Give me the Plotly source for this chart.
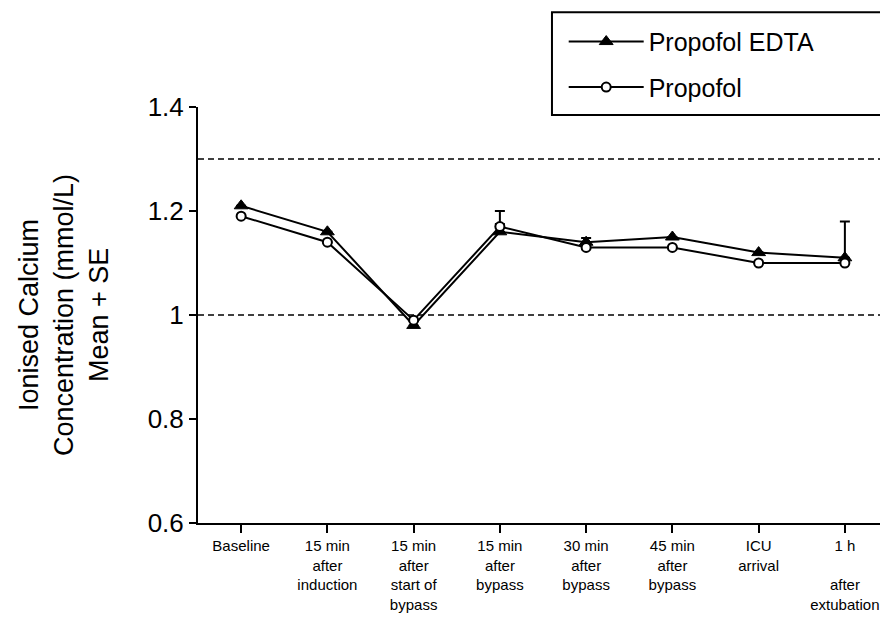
import plotly.graph_objects as go

categories = [
    "Baseline",
    "15 min<br>after<br>induction",
    "15 min<br>after<br>start of<br>bypass",
    "15 min<br>after<br>bypass",
    "30 min<br>after<br>bypass",
    "45 min<br>after<br>bypass",
    "ICU<br>arrival",
    "1 h<br> <br>after<br>extubation",
]
edta_mean = [1.21, 1.16, 0.98, 1.16, 1.14, 1.15, 1.12, 1.11]
edta_se = [None, None, None, 0.015, 0.008, None, None, 0.07]
prop_mean = [1.19, 1.14, 0.99, 1.17, 1.13, 1.13, 1.10, 1.10]
prop_se = [None, None, None, 0.03, None, None, None, None]
ref_lines = [1.3, 1.0]
y_ticks = [0.6, 0.8, 1.0, 1.2, 1.4]
y_ticktext = ["0.6", "0.8", "1", "1.2", "1.4"]

FONT = "Liberation Sans, Arial, sans-serif"
xs = list(range(len(categories)))

def minus(se):
    return [0 if v is not None else None for v in se]

fig = go.Figure()
fig.add_trace(go.Scatter(
    x=xs, y=edta_mean, name="Propofol EDTA", mode="lines+markers",
    legendgroup="a",
    line=dict(color="black", width=2),
    marker=dict(symbol="triangle-up", size=12, color="black", line=dict(color="black", width=1)),
    error_y=dict(type="data", symmetric=False, array=edta_se, arrayminus=minus(edta_se),
                 color="black", thickness=2, width=5),
))
fig.add_trace(go.Scatter(
    x=xs, y=prop_mean, name="Propofol", mode="lines+markers",
    legendgroup="b",
    line=dict(color="black", width=2),
    marker=dict(symbol="circle", size=9, color="white", line=dict(color="black", width=2)),
    error_y=dict(type="data", symmetric=False, array=prop_se, arrayminus=minus(prop_se),
                 color="black", thickness=2, width=5),
))

for v in ref_lines:
    fig.add_shape(type="line", xref="paper", yref="y", x0=0, x1=1, y0=v, y1=v,
                  line=dict(color="black", width=1.6, dash="6px,4px"), layer="below")

# legend box
fig.add_shape(type="rect", xref="paper", yref="paper", x0=0.513, x1=0.999, y0=0.981, y1=1.228,
              line=dict(color="black", width=2), fillcolor="white", layer="above")

fig.add_annotation(
    text="Ionised Calcium<br>Concentration (mmol/L)<br>Mean + SE",
    xref="paper", yref="paper", x=0, y=0.5, xshift=-134,
    textangle=-90, showarrow=False, font=dict(family=FONT, size=27, color="black"),
    xanchor="center", yanchor="middle",
)

fig.update_layout(
    width=880, height=609,
    margin=dict(l=190, r=0, t=99, b=94),
    paper_bgcolor="white", plot_bgcolor="white",
    font=dict(family=FONT, color="black"),
    showlegend=True,
    legend=dict(x=0.530, y=1.212, xanchor="left", yanchor="top",
                bgcolor="rgba(0,0,0,0)", borderwidth=0,
                font=dict(family=FONT, size=25, color="black"),
                itemwidth=75, tracegroupgap=10, traceorder="grouped"),
    xaxis=dict(range=[-0.5, 7.5], tickmode="array", tickvals=xs, ticktext=categories,
               showline=True, linecolor="black", linewidth=2, ticks="outside",
               ticklen=8, tickwidth=2, tickcolor="black", showgrid=False, zeroline=False,
               tickfont=dict(family=FONT, size=15, color="black"), tickangle=0),
    yaxis=dict(range=[0.6, 1.4], tickmode="array", tickvals=y_ticks, ticktext=y_ticktext,
               showline=True, linecolor="black", linewidth=2, ticks="outside",
               ticklen=7, tickwidth=2, tickcolor="black", showgrid=False, zeroline=False,
               tickfont=dict(family=FONT, size=26, color="black")),
)

fig.write_html("out.html")
